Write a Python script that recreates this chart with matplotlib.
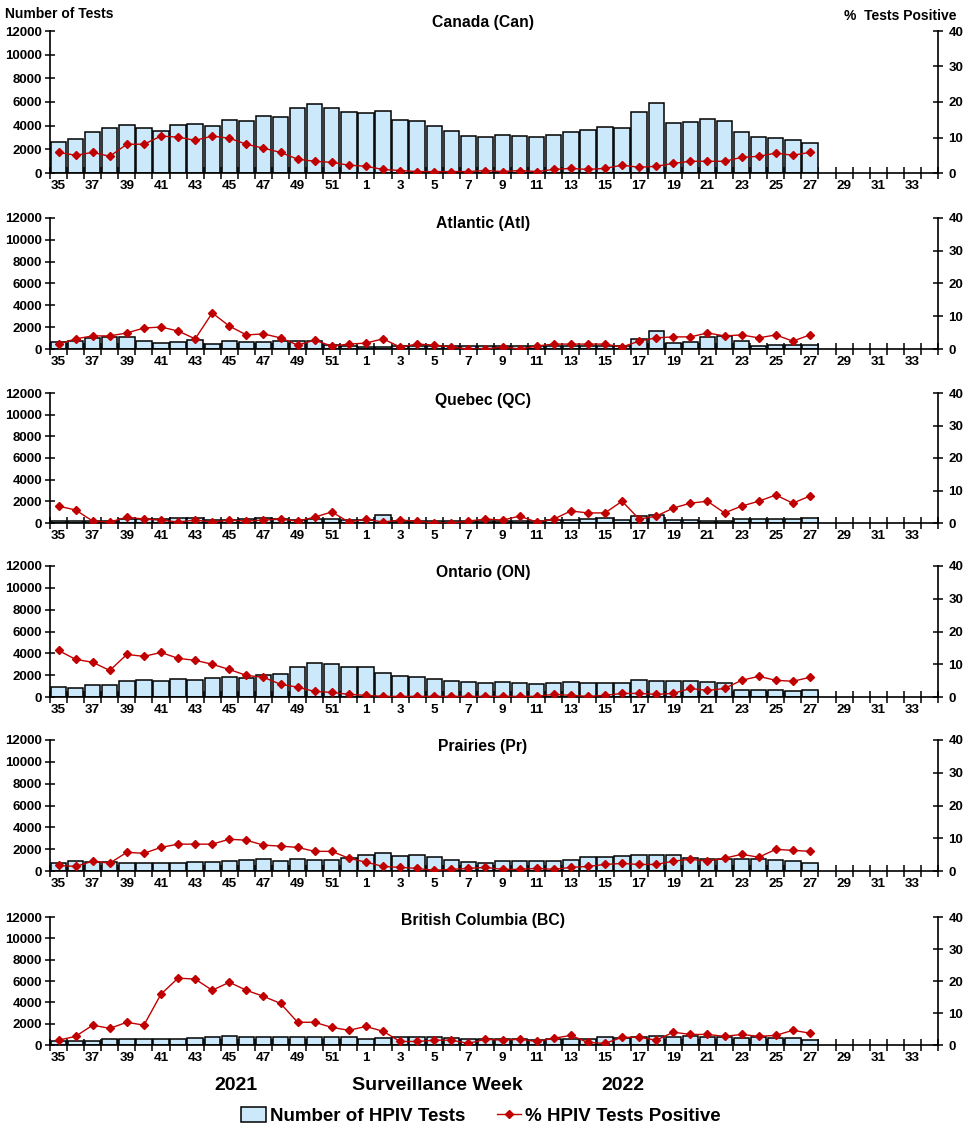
import numpy as np
import matplotlib
matplotlib.use("Agg")
import matplotlib.pyplot as plt
from matplotlib.patches import Patch
from matplotlib.lines import Line2D

plt.rcParams['font.family'] = ['Liberation Sans', 'DejaVu Sans']
plt.rcParams['font.weight'] = 'bold'

# ---- data ----
weeks = list(range(35, 53)) + list(range(1, 35))          # 52 weekly slots
tick_labels = [str(w) if i % 2 == 0 else "" for i, w in enumerate(weeks)]

regions = ["Canada (Can)", "Atlantic (Atl)", "Quebec (QC)",
           "Ontario (ON)", "Prairies (Pr)", "British Columbia (BC)"]

can_tests = [2600, 2850, 3450, 3780, 4030, 3780, 3520, 4030, 4110, 3940, 4450, 4370, 4790, 4700, 5460, 5800, 5460, 5130,
             5040, 5210, 4450, 4370, 3940, 3520, 3100, 3010,
             3210, 3120, 3040, 3210, 3460, 3640, 3900, 3810, 5170, 5940, 4230, 4320, 4580, 4400, 3460, 3040, 2960, 2780, 2530]
can_pct = [5.8, 5.0, 5.8, 4.7, 8.1, 8.1, 10.4, 10.1, 9.2, 10.4, 9.8, 8.1, 7.0, 5.8, 3.9, 3.3, 3.0, 2.2,
           1.9, 1.0, 0.7, 0.4, 0.4, 0.4, 0.4, 0.7,
           0.4, 0.7, 0.4, 1.0, 1.3, 1.0, 1.3, 2.2, 1.6, 1.9, 2.7, 3.3, 3.3, 3.3, 4.4, 4.7, 5.6, 5.0, 5.8]

atl_tests = [640, 730, 1010, 1100, 1100, 730, 550, 640, 820, 460, 730, 640, 640, 730, 730, 730, 370, 270,
             180, 180, 270, 270, 270, 270, 270, 270,
             270, 270, 270, 270, 270, 270, 270, 270, 920, 1650, 550, 640, 1100, 1190, 730, 270, 370, 370, 370]
atl_pct = [1.5, 3.1, 4.0, 4.0, 4.9, 6.4, 6.7, 5.5, 3.1, 11.0, 7.0, 4.3, 4.6, 3.4, 1.2, 2.7, 0.9, 1.5,
           1.8, 3.1, 0.6, 1.5, 1.2, 0.6, 0.0, 0.0,
           0.6, 0.0, 0.9, 1.5, 1.5, 1.5, 1.5, 0.6, 2.4, 3.4, 3.7, 3.7, 4.9, 4.0, 4.3, 3.4, 4.3, 2.4, 4.3]

qc_tests = [180, 180, 180, 180, 370, 370, 370, 460, 460, 280, 280, 370, 460, 370, 280, 370, 370, 280,
            280, 730, 180, 180, 180, 180, 180, 180,
            180, 180, 180, 280, 280, 370, 460, 280, 640, 730, 280, 280, 180, 180, 370, 370, 370, 370, 460]
qc_pct = [5.2, 4.0, 0.6, 0.3, 1.8, 1.2, 0.9, 0.3, 0.9, 0.3, 0.9, 0.6, 0.9, 1.2, 0.6, 1.8, 3.4, 0.3,
          1.2, 0.3, 0.9, 0.6, 0.0, 0.0, 0.6, 1.2,
          0.9, 2.1, 0.3, 1.2, 3.7, 3.1, 3.1, 6.7, 1.2, 2.1, 4.6, 6.1, 6.7, 3.1, 5.2, 6.7, 8.6, 6.1, 8.3]

on_tests = [890, 790, 1070, 1070, 1440, 1530, 1440, 1620, 1530, 1710, 1800, 1710, 1980, 2080, 2720, 3080, 2990, 2720,
            2720, 2170, 1890, 1800, 1620, 1440, 1340, 1250,
            1340, 1250, 1160, 1250, 1340, 1250, 1250, 1250, 1530, 1440, 1440, 1440, 1340, 1250, 610, 610, 610, 520, 610]
on_pct = [14.2, 11.5, 10.6, 8.1, 13.0, 12.4, 13.6, 11.8, 11.2, 10.0, 8.4, 6.6, 6.0, 3.9, 3.0, 1.7, 1.4, 0.8,
          0.5, 0.2, 0.2, 0.2, 0.2, 0.2, 0.2, 0.2,
          0.2, 0.2, 0.2, 0.8, 0.5, 0.2, 0.5, 1.1, 1.1, 0.8, 1.1, 2.6, 2.0, 2.6, 5.1, 6.3, 5.1, 4.8, 6.0]

pr_tests = [700, 890, 800, 800, 700, 700, 700, 700, 800, 800, 890, 980, 1070, 890, 1070, 980, 980, 1160,
            1440, 1620, 1350, 1440, 1250, 980, 800, 700,
            890, 890, 890, 890, 980, 1250, 1250, 1350, 1440, 1440, 1440, 1160, 1070, 1070, 1070, 1070, 980, 890, 700]
pr_pct = [1.7, 1.4, 3.0, 2.4, 5.7, 5.4, 7.2, 8.2, 8.2, 8.2, 9.7, 9.4, 7.9, 7.6, 7.2, 6.0, 6.0, 3.9,
          2.7, 1.4, 1.1, 0.8, 0.2, 0.5, 0.8, 1.1,
          0.5, 0.5, 0.8, 0.5, 1.1, 1.4, 2.0, 2.3, 2.0, 2.0, 3.0, 3.6, 3.0, 3.9, 5.1, 4.2, 6.6, 6.3, 6.0]

bc_tests = [340, 340, 340, 530, 530, 530, 530, 530, 630, 720, 820, 720, 720, 720, 720, 720, 720, 720,
            530, 630, 720, 720, 720, 630, 530, 530,
            530, 530, 440, 530, 530, 530, 720, 630, 720, 820, 720, 820, 720, 720, 630, 720, 630, 630, 440]
bc_pct = [1.5, 2.7, 6.2, 5.2, 7.1, 6.2, 15.9, 20.9, 20.6, 17.1, 19.6, 17.1, 15.2, 13.0, 7.1, 7.1, 5.5, 4.6,
          5.8, 4.3, 1.1, 1.1, 1.5, 1.5, 0.5, 1.8,
          1.5, 1.8, 1.1, 2.1, 3.0, 0.8, 0.5, 2.4, 2.4, 1.5, 4.0, 3.3, 3.3, 2.7, 3.3, 2.7, 3.0, 4.6, 3.7]

tests_all = [can_tests, atl_tests, qc_tests, on_tests, pr_tests, bc_tests]
pct_all = [can_pct, atl_pct, qc_pct, on_pct, pr_pct, bc_pct]

# ---- style ----
BAR_COLOR = '#CCE9FB'
LINE_COLOR = '#C00000'
W, H = 967, 1140
fig = plt.figure(figsize=(W / 100, H / 100), dpi=100)

panel_px = [(31, 173), (218, 349), (393, 523), (566, 697), (740, 871), (917, 1045)]
title_y = [22, 224, 400, 573, 747, 921]
left_px, right_px = 50, 938

x_all = np.arange(len(weeks))

for k, (top, bot) in enumerate(panel_px):
    ax = fig.add_axes([left_px / W, 1 - bot / H, (right_px - left_px) / W, (bot - top) / H])
    tests = tests_all[k]
    pct = pct_all[k]
    xs = x_all[:len(tests)]
    ax.bar(xs, tests, width=0.9, color=BAR_COLOR, edgecolor='black', linewidth=1.1, zorder=2)
    ax.set_xlim(-0.5, len(weeks) - 0.5)
    ax.set_ylim(0, 12000)
    ax.set_yticks(np.arange(0, 12001, 2000))
    ax.spines['top'].set_visible(False)
    ax.spines['right'].set_visible(False)
    for s in ['left', 'bottom']:
        ax.spines[s].set_linewidth(1.2)
    ax.set_xticks(np.arange(-0.5, len(weeks), 1))
    ax.set_xticklabels([])
    ax.set_xticks(x_all, minor=True)
    ax.set_xticklabels(tick_labels, minor=True)
    ax.tick_params(axis='x', which='major', direction='inout', length=9, width=1.1)
    ax.tick_params(axis='x', which='minor', length=0, pad=5, labelsize=9.7)
    ax.tick_params(axis='y', which='both', direction='inout', length=7, width=1.1, labelsize=9.5, pad=2,
                   left=True, right=False, labelright=False)

    ax2 = ax.twinx()
    ax2.plot(xs, pct, color=LINE_COLOR, linewidth=1.0, marker='D', markersize=4.5,
             markerfacecolor=LINE_COLOR, markeredgecolor=LINE_COLOR, zorder=3)
    ax2.set_ylim(0, 40)
    ax2.set_yticks([0, 10, 20, 30, 40])
    ax2.yaxis.set_minor_locator(matplotlib.ticker.NullLocator())
    ax2.spines['top'].set_visible(False)
    ax2.spines['left'].set_visible(False)
    ax2.spines['bottom'].set_visible(False)
    ax2.spines['right'].set_linewidth(1.2)
    ax2.tick_params(axis='y', direction='inout', length=7, width=1.1, labelsize=9.5, pad=4,
                    left=False, right=True)

    fig.text(483 / W, 1 - title_y[k] / H, regions[k], ha='center', va='center',
             fontsize=11.3, fontweight='bold')

fig.text(5 / W, 1 - 14 / H, "Number of Tests", ha='left', va='center', fontsize=10, fontweight='bold')
fig.text(957 / W, 1 - 16 / H, "%  Tests Positive", ha='right', va='center', fontsize=10, fontweight='bold')

fig.text(236 / W, 1 - 1085 / H, "2021", ha='center', va='center', fontsize=14, fontweight='bold')
fig.text(437 / W, 1 - 1085 / H, "Surveillance Week", ha='center', va='center', fontsize=14, fontweight='bold')
fig.text(623 / W, 1 - 1085 / H, "2022", ha='center', va='center', fontsize=14, fontweight='bold')

handles = [Patch(facecolor=BAR_COLOR, edgecolor='black', linewidth=1.1),
           Line2D([0], [0], color=LINE_COLOR, linewidth=1.0, marker='D', markersize=4.5)]
fig.legend(handles, ["Number of HPIV Tests", "% HPIV Tests Positive"], loc='center',
           bbox_to_anchor=(481 / W, 1 - 1116 / H), ncol=2, frameon=False,
           prop={'size': 13.5, 'weight': 'bold'}, handlelength=1.3, handletextpad=0.2,
           columnspacing=1.7, handleheight=0.9)

fig.savefig("out.png", dpi=100)
